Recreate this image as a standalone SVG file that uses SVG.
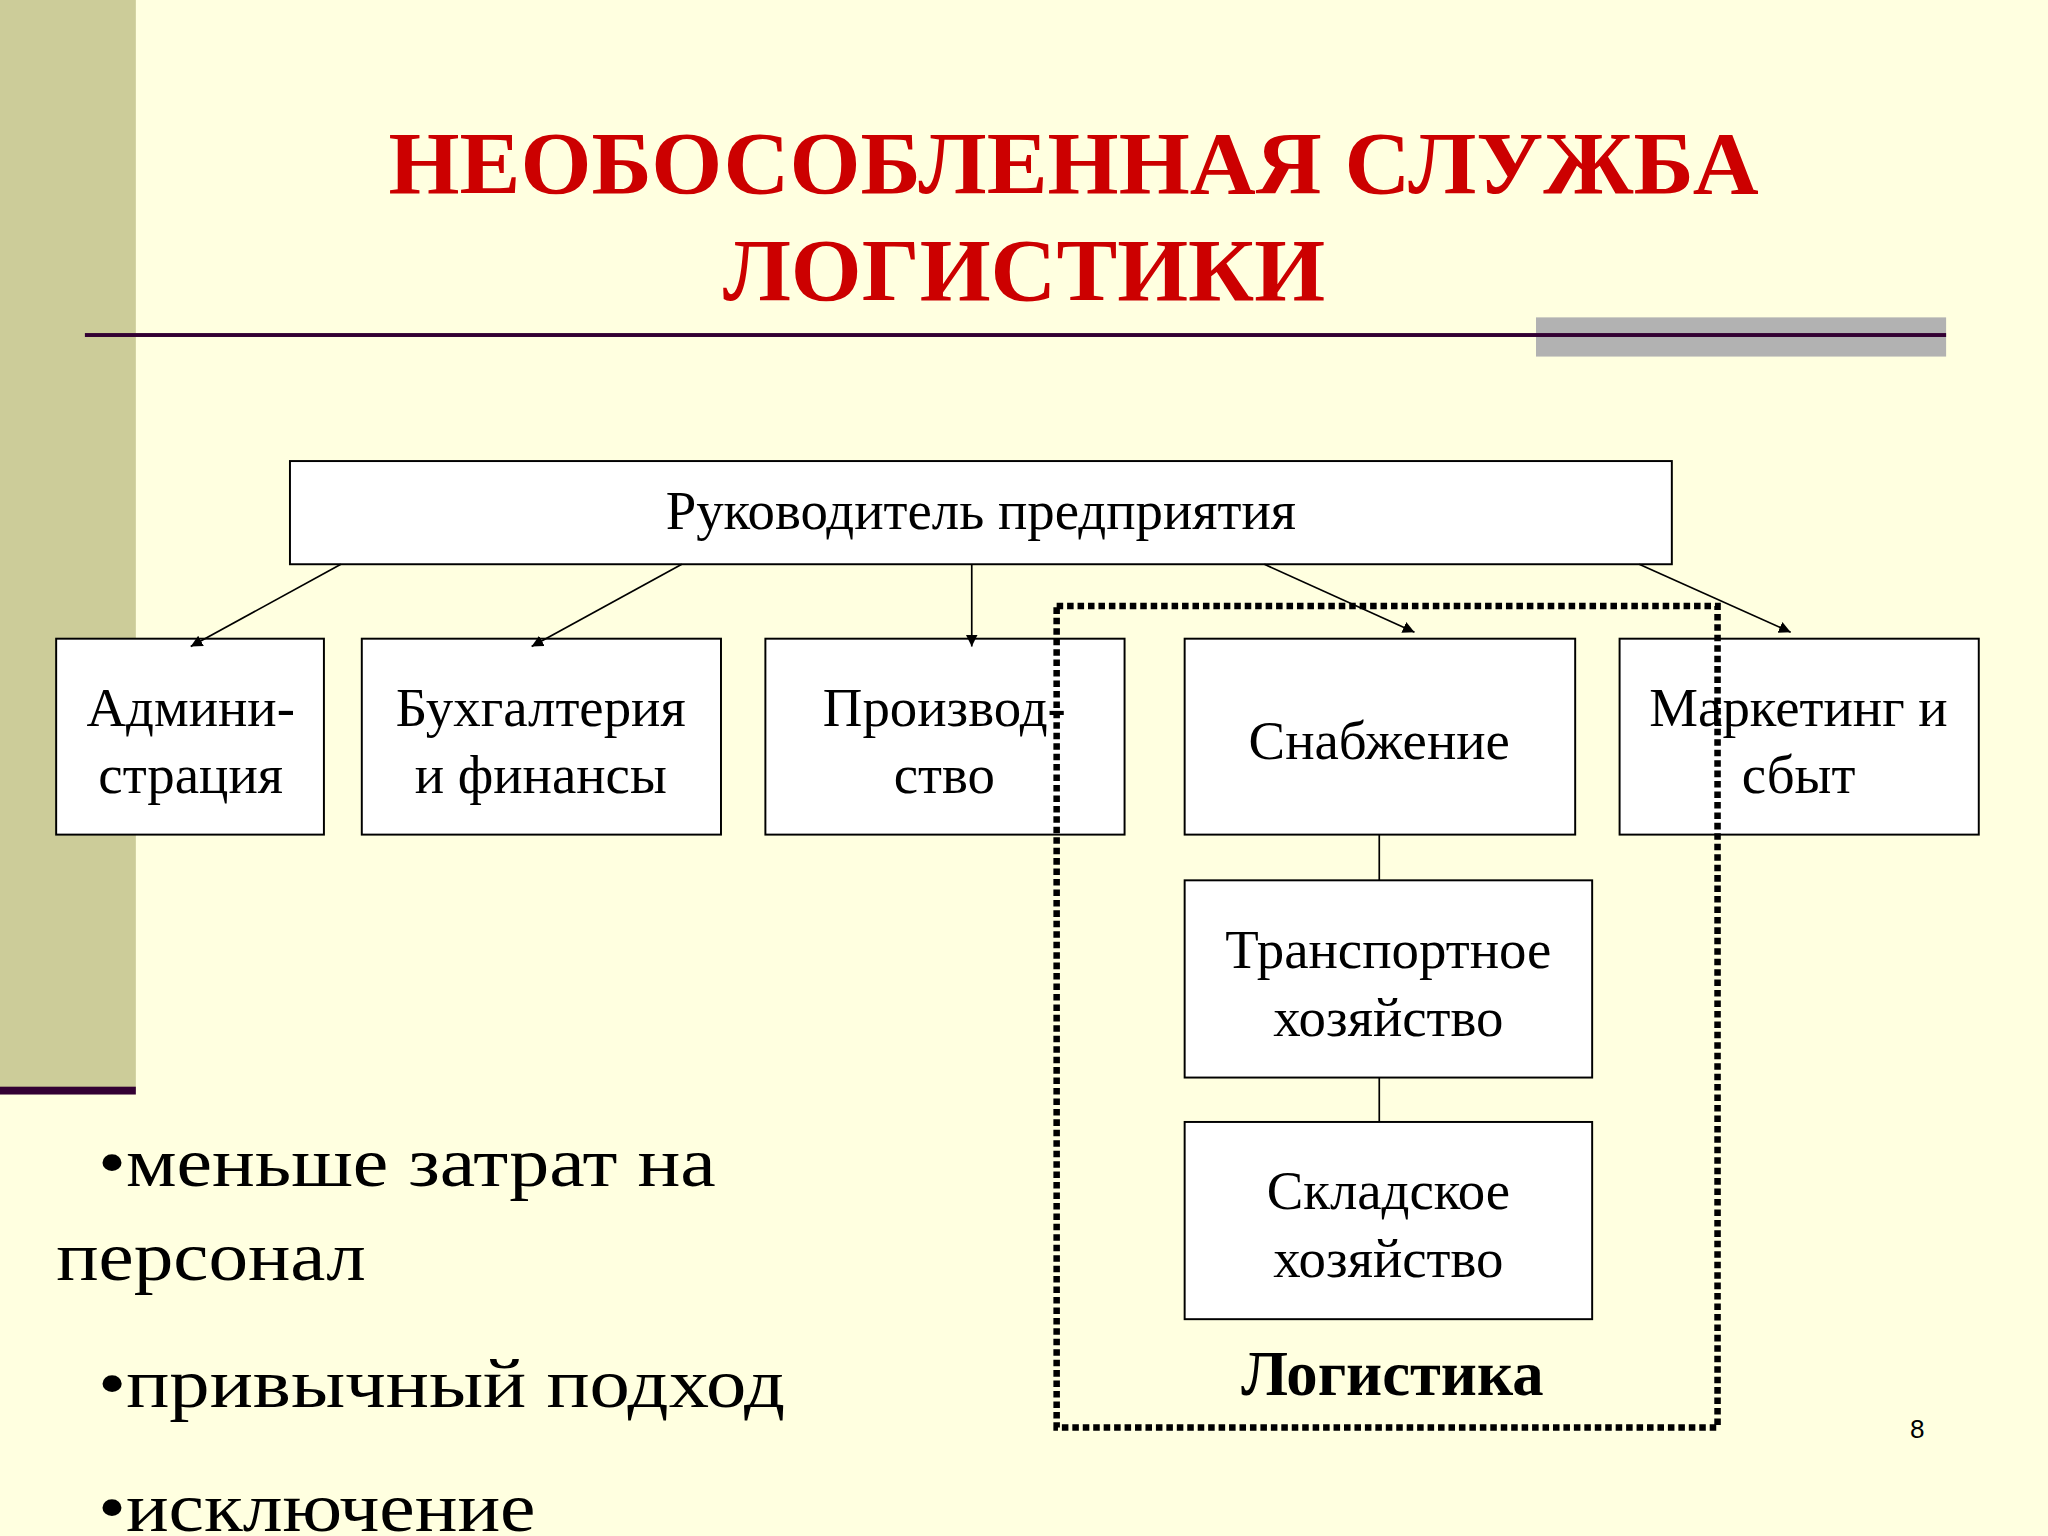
<svg xmlns="http://www.w3.org/2000/svg" width="2048" height="1536" viewBox="0 0 2048 1536">
<defs>
<style>
.b{fill:#fff;stroke:#000;stroke-width:1.5}
.t{font-family:"Liberation Serif",serif;font-size:42px;text-anchor:middle;fill:#000}
.c{stroke:#000;stroke-width:1.3;fill:none}
.bl{font-family:"Liberation Serif",serif;font-size:54px;fill:#000}
</style>
<marker id="a" viewBox="0 0 10 10" refX="10" refY="5" markerWidth="9" markerHeight="9" orient="auto" markerUnits="userSpaceOnUse"><path d="M0,0L10,5L0,10z" fill="#000"/></marker>
</defs>
<rect width="2048" height="1536" fill="#FFFFE0"/>
<g transform="scale(1.30612)">
<rect x="0" y="0" width="104" height="835" fill="#CCCC99"/>
<rect x="0" y="832" width="104" height="6" fill="#330033"/>
<g font-family="Liberation Serif,serif" font-weight="bold" font-size="68" fill="#CC0000" text-anchor="middle">
<text x="822" y="148" textLength="1049" lengthAdjust="spacingAndGlyphs">НЕОБОСОБЛЕННАЯ СЛУЖБА</text>
<text x="784" y="230" textLength="461" lengthAdjust="spacingAndGlyphs">ЛОГИСТИКИ</text>
</g>
<rect x="1176" y="243" width="314" height="30" fill="#B2B2B2"/>
<rect x="65" y="255" width="1425" height="3" fill="#330033"/>
<g id="top"><rect class="b" x="222" y="353" width="1058" height="79"/><text class="t" x="751" y="405" font-size="40">Руководитель предприятия</text></g>
<g id="admin"><rect class="b" x="43" y="489" width="205" height="150"/><text class="t" x="146" y="556">Админи-</text><text class="t" x="146" y="607">страция</text></g>
<g id="buh"><rect class="b" x="277" y="489" width="275" height="150"/><text class="t" x="414" y="556">Бухгалтерия</text><text class="t" x="414" y="607">и финансы</text></g>
<g id="proizv"><rect class="b" x="586" y="489" width="275" height="150"/><text class="t" x="723" y="556">Производ-</text><text class="t" x="723" y="607">ство</text></g>
<g id="snab"><rect class="b" x="907" y="489" width="299" height="150"/><text class="t" x="1056" y="581">Снабжение</text></g>
<g id="mark"><rect class="b" x="1240" y="489" width="275" height="150"/><text class="t" x="1377" y="556">Маркетинг и</text><text class="t" x="1377" y="607">сбыт</text></g>
<g id="trans"><rect class="b" x="907" y="674" width="312" height="151"/><text class="t" x="1063" y="741">Транспортное</text><text class="t" x="1063" y="793">хозяйство</text></g>
<g id="sklad"><rect class="b" x="907" y="859" width="312" height="151"/><text class="t" x="1063" y="926">Складское</text><text class="t" x="1063" y="978">хозяйство</text></g>
<g id="connectors">
<line class="c" x1="261" y1="432" x2="146" y2="495" marker-end="url(#a)"/>
<line class="c" x1="522" y1="432" x2="407" y2="495" marker-end="url(#a)"/>
<line class="c" x1="744" y1="432" x2="744" y2="495" marker-end="url(#a)"/>
<line class="c" x1="968" y1="432" x2="1083" y2="484" marker-end="url(#a)"/>
<line class="c" x1="1255" y1="432" x2="1371" y2="484" marker-end="url(#a)"/>
<line class="c" x1="1056" y1="639" x2="1056" y2="674"/>
<line class="c" x1="1056" y1="825" x2="1056" y2="859"/>
</g>
<g id="logistics"><rect x="809" y="464" width="506" height="629" fill="none" stroke="#000" stroke-width="5" stroke-dasharray="5 3"/>
<text x="1066" y="1068" font-family="Liberation Serif,serif" font-weight="bold" font-size="48" text-anchor="middle">Логистика</text></g>
<text class="bl" x="75" y="908" textLength="473" lengthAdjust="spacingAndGlyphs">•меньше затрат на</text>
<text class="bl" x="43" y="980" textLength="237" lengthAdjust="spacingAndGlyphs">персонал</text>
<text class="bl" x="75" y="1077" textLength="526" lengthAdjust="spacingAndGlyphs">•привычный подход</text>
<text class="bl" x="75" y="1172" textLength="335" lengthAdjust="spacingAndGlyphs">•исключение</text>
<text x="1468" y="1101" font-family="Liberation Sans,sans-serif" font-size="20" text-anchor="middle">8</text>
</g>
</svg>
